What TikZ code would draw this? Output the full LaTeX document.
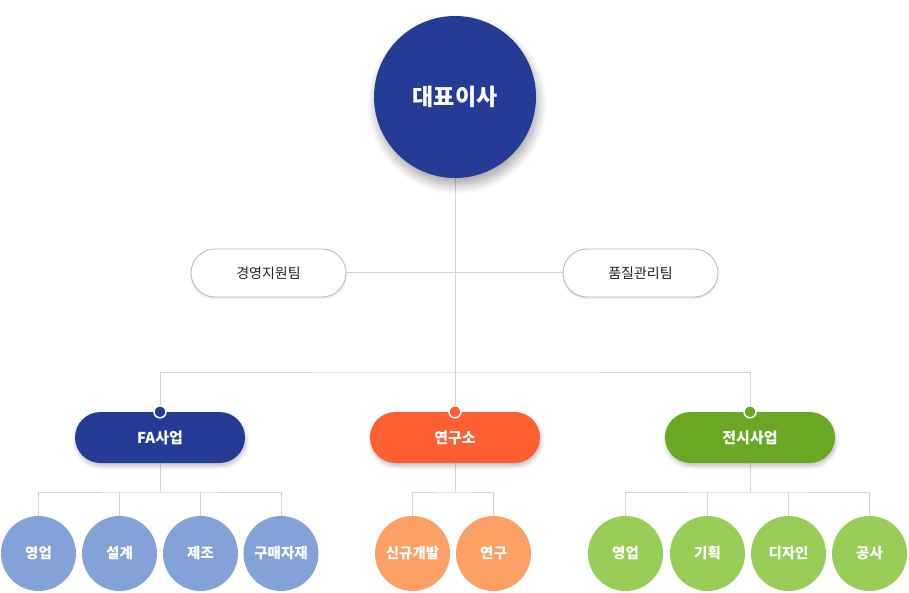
\documentclass[tikz,border=0pt]{standalone}
\usepackage{fontspec}
\setmainfont{Noto Sans CJK KR}
\usetikzlibrary{shadows.blur,backgrounds}
\definecolor{navy}{HTML}{253C96}
\definecolor{coral}{HTML}{FD5F32}
\definecolor{leaf}{HTML}{69A823}
\definecolor{navylight}{HTML}{83A2D8}
\definecolor{corallight}{HTML}{FDA066}
\definecolor{leaflight}{HTML}{98CD57}
\definecolor{linegray}{HTML}{D4D4D4}
\definecolor{pillgray}{HTML}{BDBDBD}
\definecolor{textgray}{HTML}{222222}

\begin{document}
\begin{tikzpicture}[x=1pt,y=-1pt,
    conn/.style={draw=linegray,line width=1pt},
    ceobox/.style={circle,fill=navy,minimum size=162pt,inner sep=0pt,text=white,
      font=\fontsize{23}{26}\selectfont\bfseries,
      blur shadow={shadow xshift=2pt,shadow yshift=-7pt,shadow blur steps=12,shadow blur radius=9pt,shadow opacity=35}},
    staffbox/.style={draw=pillgray,line width=0.9pt,fill=white,rounded corners=24pt,minimum width=155pt,minimum height=48pt,
      text=textgray,font=\fontsize{14}{16}\selectfont,
      blur shadow={shadow xshift=0pt,shadow yshift=-1.5pt,shadow blur steps=4,shadow blur radius=2pt,shadow opacity=12}},
    deptbox/.style={fill=#1,rounded corners=25.5pt,minimum width=170pt,minimum height=51pt,text=white,
      font=\fontsize{15}{17}\selectfont\bfseries,
      blur shadow={shadow xshift=1pt,shadow yshift=-3pt,shadow blur steps=6,shadow blur radius=4pt,shadow opacity=25}},
    teambox/.style={circle,fill=#1,minimum size=75pt,inner sep=0pt,text=white,
      font=\fontsize{14.5}{16}\selectfont\bfseries},
    joint/.style={circle,fill=#1,draw=white,line width=1.5pt,minimum size=12pt,inner sep=0pt}
  ]
  \useasboundingbox (0,0) rectangle (909,593);

  % top
  \node[ceobox] (ceo) at (455,97) {대표이사};
  \node[staffbox] (mgmt) at (268.5,273) {경영지원팀};
  \node[staffbox] (qa) at (640.5,273) {품질관리팀};

  % departments
  \node[deptbox=navy] (fa) at (160,437.5) {FA사업};
  \node[deptbox=coral] (rnd) at (455,437.5) {연구소};
  \node[deptbox=leaf] (expo) at (750,437.5) {전시사업};
  \node[joint=navy] (jfa) at (fa.north) {};
  \node[joint=coral] (jrnd) at (rnd.north) {};
  \node[joint=leaf] (jexpo) at (expo.north) {};
  \coordinate (bus) at (455,372);

  % teams
  \foreach \name/\x/\txt in {fa1/38.5/영업,fa2/119.5/설계,fa3/200.5/제조,fa4/281/구매자재}
    \node[teambox=navylight] (\name) at (\x,553.5) {\txt};
  \foreach \name/\x/\txt in {rnd1/412.5/신규개발,rnd2/493.5/연구}
    \node[teambox=corallight] (\name) at (\x,553.5) {\txt};
  \foreach \name/\x/\txt in {expo1/625.5/영업,expo2/707.5/기획,expo3/788.5/디자인,expo4/869.5/공사}
    \node[teambox=leaflight] (\name) at (\x,553.5) {\txt};
  \coordinate (fabus) at (160,492);
  \coordinate (rndbus) at (455,492);
  \coordinate (expobus) at (750,492);

  \begin{scope}[on background layer]
    \draw[conn] (ceo.south) -- (jrnd);
    \draw[conn] (mgmt.east) -- (qa.west);
    \draw[conn] (jfa) |- (bus) -| (jexpo);
    \draw[conn] (fa.south) -- (fabus);
    \draw[conn] (fa1) |- (fabus) -| (fa4);
    \draw[conn] (fa2) -- (fa2 |- fabus);
    \draw[conn] (fa3) -- (fa3 |- fabus);
    \draw[conn] (rnd.south) -- (rndbus);
    \draw[conn] (rnd1) |- (rndbus) -| (rnd2);
    \draw[conn] (expo.south) -- (expobus);
    \draw[conn] (expo1) |- (expobus) -| (expo4);
    \draw[conn] (expo2) -- (expo2 |- expobus);
    \draw[conn] (expo3) -- (expo3 |- expobus);
  \end{scope}
\end{tikzpicture}
\end{document}
